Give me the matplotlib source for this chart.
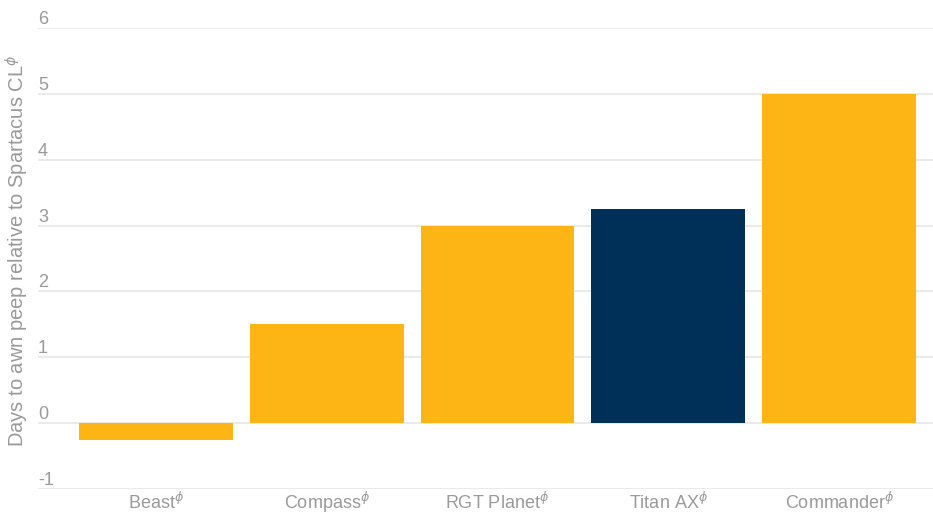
import matplotlib
matplotlib.use("Agg")
import matplotlib.pyplot as plt

categories = ["Beast", "Compass", "RGT Planet", "Titan AX", "Commander"]
values = [-0.25, 1.5, 3.0, 3.25, 5.0]
highlight = "Titan AX"
yticks = [-1, 0, 1, 2, 3, 4, 5, 6]
ylabel = r"Days to awn peep relative to Spartacus CL$^{\phi}$"

ORANGE = "#FDB515"
NAVY = "#003057"
GRID = "#e8e8e8"
TEXT = "#9a9a9a"

plt.rcParams['font.family'] = ['Liberation Sans', 'DejaVu Sans']
plt.rcParams['mathtext.fontset'] = 'dejavusans'

fig = plt.figure(figsize=(9.33, 5.15), dpi=100)
ax = fig.add_axes([38/933, 1 - 489/515, (933-38)/933, (489-28)/515])

x = list(range(len(categories)))
colors = [NAVY if c == highlight else ORANGE for c in categories]
ax.bar(x, values, width=0.9, color=colors, zorder=3)

ax.set_ylim(-1, 6)
ax.set_xlim(-0.691, 4.55)
ax.set_yticks(yticks)
ax.set_yticklabels([str(v) for v in yticks])
ax.yaxis.grid(True, color=GRID, linewidth=1.3, zorder=0)
ax.set_axisbelow(True)
for s in ax.spines.values():
    s.set_visible(False)

ax.tick_params(axis='y', length=0, pad=0, labelsize=13, labelcolor=TEXT)
for lab in ax.get_yticklabels():
    lab.set_horizontalalignment('left')
    lab.set_verticalalignment('bottom')

ax.set_xticks(x)
ax.set_xticklabels([c + r"$^{\phi}$" for c in categories])
ax.tick_params(axis='x', length=0, pad=14.5, labelsize=13, labelcolor=TEXT)
for lab in ax.get_xticklabels():
    lab.set_verticalalignment('baseline')

fig.text(17/933, 1 - 251/515, ylabel, rotation=90, ha='center', va='center',
         fontsize=14.5, color=TEXT)

fig.savefig("out.png", dpi=100)
